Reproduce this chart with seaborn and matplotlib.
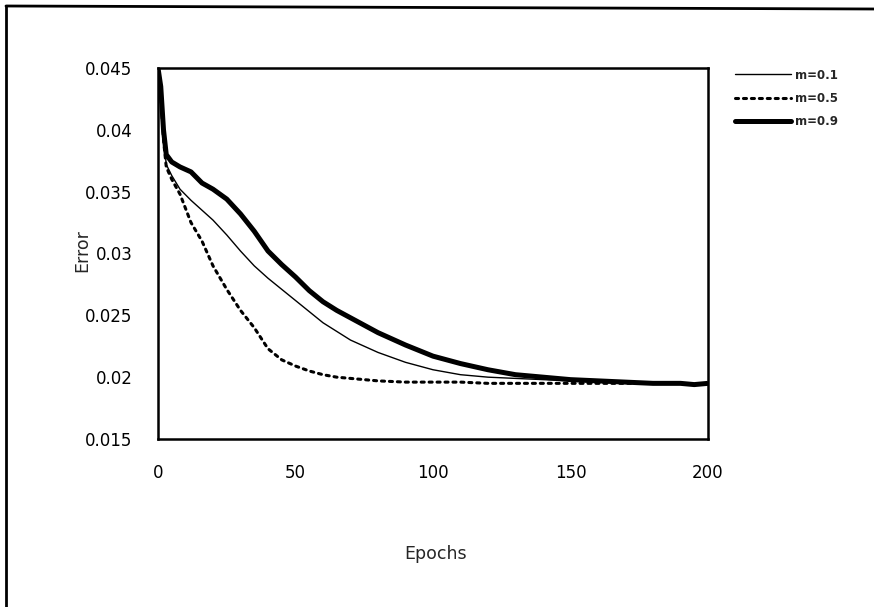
import pandas as pd
import matplotlib.pyplot as plt
import matplotlib.lines as mlines
import seaborn as sns

# --- Data ---
epochs = [0, 1, 2, 3, 5, 8, 12, 16, 20, 25, 30, 35, 40, 45, 50, 55, 60, 65,
          70, 80, 90, 100, 110, 120, 130, 140, 150, 160, 170, 180, 190, 195, 200]

err_m01 = [0.0450, 0.0430, 0.0395, 0.0372, 0.0363, 0.0352, 0.0343, 0.0335, 0.0327,
           0.0315, 0.0302, 0.0290, 0.0280, 0.0271, 0.0262, 0.0253, 0.0244, 0.0237,
           0.0230, 0.0220, 0.0212, 0.0206, 0.0202, 0.0200, 0.0199, 0.0198, 0.0197,
           0.0196, 0.0196, 0.0195, 0.0195, 0.0194, 0.0195]

err_m05 = [0.0450, 0.0428, 0.0392, 0.0370, 0.0360, 0.0348, 0.0325, 0.0310, 0.0290,
           0.0271, 0.0254, 0.0240, 0.0223, 0.0214, 0.0209, 0.0205, 0.0202, 0.0200,
           0.0199, 0.0197, 0.0196, 0.0196, 0.0196, 0.0195, 0.0195, 0.0195, 0.0195,
           0.0195, 0.0195, 0.0195, 0.0195, 0.0194, 0.0195]

err_m09 = [0.0450, 0.0435, 0.0400, 0.0380, 0.0374, 0.0370, 0.0366, 0.0357, 0.0352,
           0.0344, 0.0332, 0.0318, 0.0302, 0.0291, 0.0281, 0.0270, 0.0261, 0.0254,
           0.0248, 0.0236, 0.0226, 0.0217, 0.0211, 0.0206, 0.0202, 0.0200, 0.0198,
           0.0197, 0.0196, 0.0195, 0.0195, 0.0194, 0.0195]

series_labels = ["m=0.1", "m=0.5", "m=0.9"]
x_ticks = [0, 50, 100, 150, 200]
y_ticks = [0.015, 0.02, 0.025, 0.03, 0.035, 0.04, 0.045]
y_tick_labels = ["0.015", "0.02", "0.025", "0.03", "0.035", "0.04", "0.045"]

df = pd.DataFrame({
    "Epochs": epochs * 3,
    "Error": err_m01 + err_m05 + err_m09,
    "m": [series_labels[0]] * len(epochs) + [series_labels[1]] * len(epochs)
         + [series_labels[2]] * len(epochs),
})

# --- Plot ---
sns.set_style("white")
plt.rcParams['font.family'] = ['DejaVu Sans']

fig = plt.figure(figsize=(8.74, 6.07), dpi=100)
ax = fig.add_axes([158 / 874, 1 - 439 / 607, 550 / 874, 371 / 607])

styles = {
    "m=0.1": dict(lw=1.0, ls="-"),
    "m=0.5": dict(lw=2.2, ls=(0, (1, 1.6))),
    "m=0.9": dict(lw=3.6, ls="-"),
}
for lab in series_labels:
    sub = df[df["m"] == lab]
    sns.lineplot(data=sub, x="Epochs", y="Error", ax=ax, color="black",
                 linewidth=styles[lab]["lw"], linestyle=styles[lab]["ls"],
                 solid_capstyle="butt", dash_capstyle="round")

ax.set_xlim(0, 200)
ax.set_ylim(0.015, 0.045)
ax.set_xticks(x_ticks)
ax.set_yticks(y_ticks)
ax.set_yticklabels(y_tick_labels)
ax.tick_params(axis="x", direction="inout", length=12, width=1, pad=12,
               labelsize=12, colors="black")
ax.tick_params(axis="y", direction="inout", length=9, width=1.2, pad=14,
               labelsize=12, colors="black")
for s in ax.spines.values():
    s.set_color("black")
    s.set_linewidth(1.8)

ax.set_xlabel("Epochs", fontsize=12.5)
ax.set_ylabel("Error", fontsize=12.5)
ax.xaxis.set_label_coords(0.504, -0.285)
ax.yaxis.set_label_coords(-0.122, 0.509)

handles = [mlines.Line2D([], [], color="black", linewidth=styles[l]["lw"],
                         linestyle=styles[l]["ls"], dash_capstyle="round")
           for l in series_labels]
leg = fig.legend(handles, series_labels, loc="upper left",
                 bbox_to_anchor=(724 / 874, 1 - 58 / 607), frameon=False,
                 handlelength=4.8, handletextpad=0.3, labelspacing=0.85,
                 prop={"size": 8.5, "weight": "bold"})

# page frame from the scan
fig.add_artist(mlines.Line2D([6 / 874, 6 / 874], [1 - 6 / 607, 0], color="black",
                             lw=2, transform=fig.transFigure))
fig.add_artist(mlines.Line2D([6 / 874, 1], [1 - 6 / 607, 1 - 9 / 607], color="black",
                             lw=2, transform=fig.transFigure))

fig.savefig("out.png", dpi=100)
plt.close(fig)
